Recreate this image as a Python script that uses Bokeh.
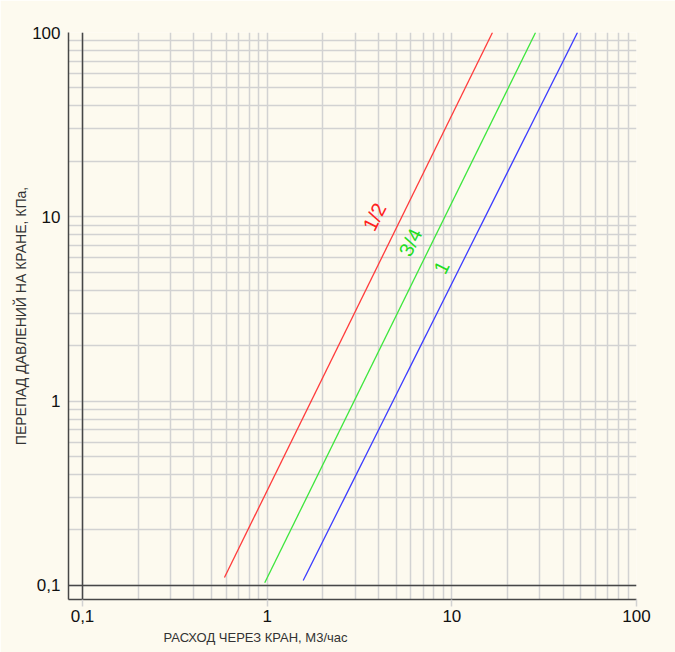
import math
from bokeh.plotting import figure
from bokeh.models import FixedTicker, Span, Title, ColumnDataSource
from bokeh.core.properties import value
from bokeh.embed import file_html
from bokeh.resources import INLINE

# ---- data ----
size_labels = ["1/2", "3/4", "1"]
line_colors = ["#ff3b3b", "#3de63d", "#3b3bff"]
label_colors = ["#ff2020", "#22dd22", "#22dd22"]

flow_12 = [0.587, 16.6]      # m3/h
dp_12 = [0.1105, 100.0]      # kPa
flow_34 = [0.970, 28.4]
dp_34 = [0.1035, 100.0]
flow_1 = [1.567, 47.9]
dp_1 = [0.1064, 100.0]

label_x = [3.81, 5.97, 8.79]
label_y = [10.0, 7.26, 5.31]

major_ticks = [0.1, 1, 10, 100]
tick_labels = {0.1: "0,1", 1: "1", 10: "10", 100: "100"}
minor_ticks = [m * 10.0 ** e for e in range(-1, 2) for m in range(2, 10)]

x_title = "РАСХОД ЧЕРЕЗ КРАН, М3/час"
y_title = "ПЕРЕПАД ДАВЛЕНИЙ НА КРАНЕ, КПа,"

BG = "#fdfaef"
GRID = "#d2d2d2"
DARK = "#474747"
FONT = "Liberation Sans"

p = figure(width=675, height=652, x_axis_type="log", y_axis_type="log",
           x_range=(0.08397, 100), y_range=(0.08394, 100),
           output_backend="svg", toolbar_location=None,
           min_border_left=68, min_border_right=39, min_border_top=32,
           min_border_bottom=53)
p.background_fill_color = BG
p.border_fill_color = BG
p.outline_line_color = None

for ax in (p.xaxis[0], p.yaxis[0]):
    ax.ticker = FixedTicker(ticks=major_ticks, minor_ticks=minor_ticks)
    ax.major_label_overrides = {k: v for k, v in tick_labels.items()}
    ax.major_label_text_font = FONT
    ax.major_label_text_font_size = "17px"
    ax.major_label_text_color = "#111111"
    ax.axis_line_color = DARK
    ax.axis_line_width = 1.5
    ax.minor_tick_line_color = None
    ax.major_tick_in = 0

p.xaxis.major_tick_out = 7
p.xaxis.major_tick_line_color = GRID
p.xaxis.major_tick_line_width = 1.5
p.xaxis.major_label_standoff = 3
p.xaxis.major_label_text_align = "left"

p.yaxis.major_tick_out = 0
p.yaxis.major_tick_line_color = None
p.yaxis.major_label_standoff = 4
p.yaxis.axis_label = y_title
p.yaxis.axis_label_text_font = FONT
p.yaxis.axis_label_text_font_size = "14px"
p.yaxis.axis_label_text_font_style = "normal"
p.yaxis.axis_label_text_color = "#333333"
p.yaxis.axis_label_standoff = 0

for g in (p.xgrid[0], p.ygrid[0]):
    g.grid_line_color = GRID
    g.grid_line_width = 1.5
    g.minor_grid_line_color = GRID
    g.minor_grid_line_width = 1.5

# dark 0.1 lines
p.add_layout(Span(location=major_ticks[0], dimension="width", line_color=DARK, line_width=1.5))
p.add_layout(Span(location=major_ticks[0], dimension="height", line_color=DARK, line_width=1.5))

for fx, fy, c in ((flow_12, dp_12, line_colors[0]),
                  (flow_34, dp_34, line_colors[1]),
                  (flow_1, dp_1, line_colors[2])):
    p.line(fx, fy, line_color=c, line_width=1.3)

src = ColumnDataSource(dict(x=label_x, y=label_y, t=size_labels, c=label_colors))
p.text(x="x", y="y", text="t", text_color="c", source=src,
       angle=63.4, angle_units="deg", text_align="center", text_baseline="middle",
       text_font=value(FONT), text_font_size="20px")

p.add_layout(Title(text=x_title, align="left", offset=95, standoff=6,
                   text_font=FONT, text_font_size="13px", text_font_style="normal",
                   text_color="#333333"), "below")

open("out.html", "w").write(file_html(p, INLINE))
